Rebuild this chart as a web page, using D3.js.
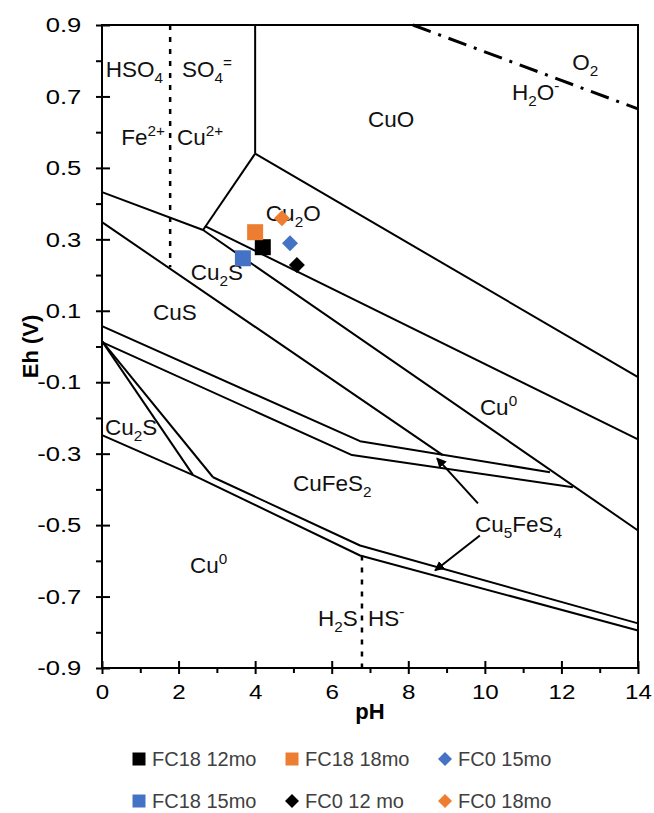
<!DOCTYPE html>
<html>
<head>
<meta charset="utf-8">
<script src="https://cdn.jsdelivr.net/npm/d3@7"></script>
<style>
  body { margin: 0; background: #fff; }
  svg { display: block; }
</style>
</head>
<body>
<div id="chart"></div>
<script>
// axis ticks
const phMajor = [0, 2, 4, 6, 8, 10, 12, 14];
const phMinor = [1, 3, 5, 7, 9, 11, 13];
const ehMajor = [0.9, 0.7, 0.5, 0.3, 0.1, -0.1, -0.3, -0.5, -0.7, -0.9];
const ehMinor = [0.8, 0.6, 0.4, 0.2, 0.0, -0.2, -0.4, -0.6, -0.8];

// stability field boundaries, [pH, Eh]
const cu2CuO = [[4.0, 0.9], [4.0, 0.54]];
const cuOCu2O = [[4.0, 0.54], [14, -0.086]];
const cu2Cu2O = [[4.0, 0.54], [2.64, 0.326]];
const cu2SUpper = [[0, 0.432], [2.64, 0.326], [14, -0.515]];
const cu2OLower = [[2.69, 0.337], [14, -0.26]];
const cuSCu0 = [[0, 0.348], [8.9, -0.304]];
const bandUpperA = [[0, 0.057], [6.74, -0.265], [11.7, -0.352]];
const bandUpperB = [[0, 0.012], [6.53, -0.304], [12.3, -0.394]];
const cu2SLeftA = [[0, 0.015], [2.38, -0.36]];
const cu2SLeftB = [[0, 0.015], [2.9, -0.366]];
const cu2SLower = [[0, -0.248], [2.38, -0.36]];
const bandLowerA = [[2.9, -0.366], [6.74, -0.557], [14, -0.775]];
const bandLowerB = [[2.38, -0.36], [6.74, -0.585], [14, -0.795]];
const solidLines = [cu2CuO, cuOCu2O, cu2Cu2O, cu2SUpper, cu2OLower, cuSCu0,
  bandUpperA, bandUpperB, cu2SLeftA, cu2SLeftB, cu2SLower, bandLowerA, bandLowerB];

const sulfateSplit = [[1.78, 0.9], [1.78, 0.222]];
const sulfideSplit = [[6.79, -0.585], [6.79, -0.9]];
const waterLine = [[8.12, 0.9], [14, 0.665]];

const arrowLines = [
  [[9.82, -0.439], [8.75, -0.313]],
  [[9.87, -0.529], [8.70, -0.627]]
];

// field labels: text, pH, Eh
const fieldText = ["HSO_{4}", "SO_{4}^{=}", "Fe^{2+}", "Cu^{2+}", "CuO", "O_{2}", "H_{2}O^{-}",
  "Cu_{2}O", "Cu_{2}S", "CuS", "Cu^{0}", "Cu_{2}S", "CuFeS_{2}", "Cu_{5}FeS_{4}", "Cu^{0}", "H_{2}S", "HS^{-}"];
const fieldPH = [0.1, 2.09, 0.5, 1.96, 6.95, 12.28, 10.71, 4.28, 2.32, 1.33, 9.87, 0.08, 4.99, 9.74, 2.3, 5.64, 6.95];
const fieldEh = [0.754, 0.754, 0.564, 0.564, 0.614, 0.774, 0.69, 0.351, 0.186, 0.074, -0.192, -0.248, -0.405, -0.519, -0.634, -0.783, -0.783];

// samples
const sampleNames = ["FC18 12mo", "FC18 18mo", "FC0 15mo", "FC18 15mo", "FC0 12 mo", "FC0 18mo"];
const samplePH = [4.2, 4.0, 4.91, 3.68, 5.09, 4.70];
const sampleEh = [0.278, 0.32, 0.289, 0.247, 0.228, 0.359];

const sampleStyle = {
  "FC18 12mo": {color: "#000000", shape: "square"},
  "FC18 18mo": {color: "#ED7D31", shape: "square"},
  "FC0 15mo":  {color: "#4472C4", shape: "diamond"},
  "FC18 15mo": {color: "#4472C4", shape: "square"},
  "FC0 12 mo": {color: "#000000", shape: "diamond"},
  "FC0 18mo":  {color: "#ED7D31", shape: "diamond"}
};

const W = 654, H = 813;
const font = "'Liberation Sans', Arial, Helvetica, sans-serif";

const svg = d3.select("#chart").append("svg")
  .attr("width", W).attr("height", H)
  .style("font-family", font);

svg.append("rect").attr("width", W).attr("height", H).attr("fill", "#fff");

const x = d3.scaleLinear().domain([0, 14]).range([102, 638]);
const y = d3.scaleLinear().domain([-0.9, 0.9]).range([668, 25]);

const line = d3.line().x(d => x(d[0])).y(d => y(d[1]));

const plot = svg.append("g");

plot.append("defs").append("marker")
  .attr("id", "head")
  .attr("viewBox", "0 0 10 10")
  .attr("refX", 9).attr("refY", 5)
  .attr("markerWidth", 5).attr("markerHeight", 5)
  .attr("orient", "auto")
  .append("path").attr("d", "M0,0 L10,5 L0,10 z").attr("fill", "#000");

// boundaries
plot.selectAll(".bnd")
  .data(solidLines)
  .enter().append("path")
  .attr("class", "bnd")
  .attr("d", line)
  .attr("fill", "none")
  .attr("stroke", "#000")
  .attr("stroke-width", 2)
  .attr("stroke-linejoin", "round");

plot.selectAll(".dotted")
  .data([sulfateSplit, sulfideSplit])
  .enter().append("path")
  .attr("d", line)
  .attr("fill", "none")
  .attr("stroke", "#000")
  .attr("stroke-width", 2.5)
  .attr("stroke-dasharray", "5,7");

plot.append("path")
  .attr("d", line(waterLine))
  .attr("fill", "none")
  .attr("stroke", "#000")
  .attr("stroke-width", 3)
  .attr("stroke-dasharray", "19,8,3,8");

plot.selectAll(".arrow")
  .data(arrowLines)
  .enter().append("path")
  .attr("d", line)
  .attr("stroke", "#000")
  .attr("stroke-width", 2)
  .attr("marker-end", "url(#head)");

// rich text with sub/superscripts
function richText(sel, str) {
  const parts = str.split(/([_^]\{[^}]*\})/).filter(s => s);
  let shift = 0;
  parts.forEach(p => {
    const m = p.match(/^([_^])\{(.*)\}$/);
    const target = m ? (m[1] === "_" ? 6 : -9) : 0;
    sel.append("tspan")
      .attr("dy", target - shift)
      .attr("font-size", m ? "68%" : null)
      .text(m ? m[2] : p);
    shift = target;
  });
}

fieldText.forEach((t, i) => {
  const tx = plot.append("text")
    .attr("x", x(fieldPH[i]))
    .attr("y", y(fieldEh[i]))
    .attr("font-size", 22.5)
    .attr("fill", "#111");
  richText(tx, t);
});

// frame
plot.append("rect")
  .attr("x", x(0)).attr("y", y(0.9))
  .attr("width", x(14) - x(0)).attr("height", y(-0.9) - y(0.9))
  .attr("fill", "none").attr("stroke", "#000").attr("stroke-width", 2);

// axes
const xAxis = svg.append("g").attr("transform", `translate(0,${y(-0.9)})`)
  .call(d3.axisBottom(x).tickValues(phMajor).tickSize(6).tickPadding(10).tickFormat(d3.format("d")));
xAxis.selectAll(".tick line").attr("y1", -7).attr("y2", 6).attr("stroke-width", 2);
xAxis.select(".domain").remove();
xAxis.selectAll("text").attr("font-size", 21).attr("font-family", font).attr("fill", "#000")
  .attr("transform", "scale(1.15,1)");

svg.append("g").attr("transform", `translate(0,${y(-0.9)})`)
  .call(d3.axisBottom(x).tickValues(phMinor).tickSize(5).tickFormat(""))
  .call(g => g.select(".domain").remove())
  .selectAll(".tick line").attr("stroke-width", 2);

const ehFormat = d => d3.format(".1f")(d).replace("\u2212", "-");
const yAxis = svg.append("g").attr("transform", `translate(${x(0)},0)`)
  .call(d3.axisLeft(y).tickValues(ehMajor).tickSize(6).tickPadding(11).tickFormat(ehFormat));
yAxis.selectAll(".tick line").attr("x1", -6).attr("x2", 8).attr("stroke-width", 2);
yAxis.select(".domain").remove();
yAxis.selectAll("text").attr("font-size", 21).attr("font-family", font).attr("fill", "#000")
  .attr("transform", "scale(1.22,1)");

svg.append("g").attr("transform", `translate(${x(0)},0)`)
  .call(d3.axisLeft(y).tickValues(ehMinor).tickSize(6).tickFormat(""))
  .call(g => g.select(".domain").remove())
  .selectAll(".tick line").attr("stroke-width", 2);

// axis titles
svg.append("text")
  .attr("x", x(7)).attr("y", 719)
  .attr("text-anchor", "middle")
  .attr("font-size", 22).attr("font-weight", "bold")
  .text("pH");

svg.append("text")
  .attr("transform", `translate(38,${y(0)}) rotate(-90)`)
  .attr("text-anchor", "middle")
  .attr("font-size", 22).attr("font-weight", "bold")
  .text("Eh (V)");

// sample markers
function marker(shape, size) {
  if (shape === "square") return d3.symbol(d3.symbolSquare, size * size)();
  return d3.symbol(d3.symbolSquare, size * size / 2)();
}

sampleNames.forEach((n, i) => {
  const st = sampleStyle[n];
  plot.append("path")
    .attr("d", marker(st.shape, 16))
    .attr("transform", `translate(${x(samplePH[i])},${y(sampleEh[i])})` + (st.shape === "diamond" ? " rotate(45)" : ""))
    .attr("fill", st.color);
});

// legend
const legX = [139, 292, 445];
const legY = [759, 801];
const legend = svg.append("g");
sampleNames.forEach((n, i) => {
  const st = sampleStyle[n];
  const cx = legX[i % 3], cy = legY[Math.floor(i / 3)];
  legend.append("path")
    .attr("d", marker(st.shape, st.shape === "square" ? 13 : 14))
    .attr("transform", `translate(${cx},${cy})` + (st.shape === "diamond" ? " rotate(45)" : ""))
    .attr("fill", st.color);
  legend.append("text")
    .attr("x", cx + 13).attr("y", cy + 7)
    .attr("font-size", 20)
    .attr("fill", "#404040")
    .text(n);
});
</script>
</body>
</html>
